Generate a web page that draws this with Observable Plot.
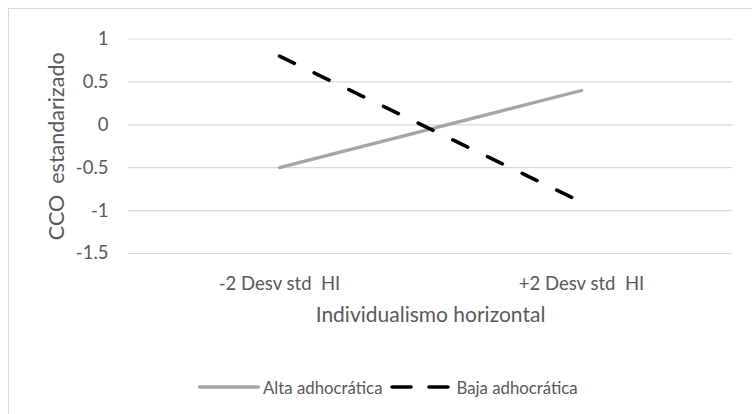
<!DOCTYPE html>
<html>
<head>
<meta charset="utf-8">
<script src="https://cdn.jsdelivr.net/npm/d3@7"></script>
<script src="https://cdn.jsdelivr.net/npm/@observablehq/plot@0.6"></script>
<style>
  html, body { margin: 0; padding: 0; background: #fff; overflow: hidden; }
  #wrap { position: relative; width: 752px; height: 414px; font-family: Lato, "Open Sans", sans-serif; }
  #frame { position: absolute; left: 8px; top: 8px; width: 800px; height: 500px; border: 1px solid #d9d9d9; box-sizing: border-box; }
  #chart { position: absolute; left: 0; top: 0; }
  #legend { position: absolute; left: 198px; top: 376px; height: 22px; display: flex; align-items: center; font-size: 16.8px; color: #595959; white-space: pre; }
  #legend svg { display: block; }
  #chart text { fill: #595959; }
</style>
</head>
<body>
<div id="wrap">
  <div id="frame"></div>
  <div id="chart"></div>
  <div id="legend"></div>
</div>
<script>
const categories = ["-2 Desv std  HI", "+2 Desv std  HI"];
const seriesNames = ["Alta adhocrática", "Baja adhocrática"];
const altaValues = [-0.5, 0.4];
const bajaValues = [0.8, -0.9];
const yTicks = [-1.5, -1, -0.5, 0, 0.5, 1];
const xLabel = "Individualismo horizontal";
const yLabel = "CCO  estandarizado";

const colors = {"Alta adhocrática": "#a5a5a5", "Baja adhocrática": "#000000"};

const alta = categories.map((c, i) => ({cat: c, value: altaValues[i], series: seriesNames[0]}));
const baja = categories.map((c, i) => ({cat: c, value: bajaValues[i], series: seriesNames[1]}));

const plot = Plot.plot({
  width: 752,
  height: 368,
  marginLeft: 128,
  marginRight: 20,
  marginTop: 38.5,
  marginBottom: 115,
  style: {fontFamily: "Lato, 'Open Sans', sans-serif", fontSize: "18.5px", color: "#595959", background: "transparent"},
  x: {type: "point", domain: categories, padding: 0.5},
  y: {domain: [-1.5, 1]},
  marks: [
    Plot.gridY(yTicks, {stroke: "#d9d9d9", strokeOpacity: 1, strokeWidth: 1.2}),
    Plot.axisY(yTicks, {tickSize: 0, tickPadding: 20, tickFormat: d => String(d), label: null, fontSize: 18.5}),
    Plot.axisY({label: yLabel, ticks: [], tickSize: 0, labelAnchor: "center", labelArrow: "none", labelOffset: 80, fontSize: 21.5}),
    Plot.axisX({tickSize: 0, tickPadding: 23, label: null, fontSize: 18.5}),
    Plot.axisX({label: xLabel, ticks: [], tickSize: 0, labelAnchor: "center", labelArrow: "none", labelOffset: 68, fontSize: 21}),
    Plot.line(alta, {x: "cat", y: "value", stroke: colors[seriesNames[0]], strokeWidth: 3.3, strokeLinecap: "round"}),
    Plot.line(baja, {x: "cat", y: "value", stroke: colors[seriesNames[1]], strokeWidth: 3.6, strokeLinecap: "round", strokeDasharray: "16.5,22"})
  ]
});
plot.querySelectorAll("text").forEach(t => t.setAttribute("xml:space", "preserve"));
plot.style.whiteSpace = "pre";
document.getElementById("chart").appendChild(plot);

// Legend
const legend = document.getElementById("legend");
function swatch(color, dashed) {
  const ns = "http://www.w3.org/2000/svg";
  const s = document.createElementNS(ns, "svg");
  s.setAttribute("width", 62);
  s.setAttribute("height", 10);
  const l = document.createElementNS(ns, "line");
  l.setAttribute("x1", dashed ? 2 : 1.5);
  l.setAttribute("x2", dashed ? 60 : 60.5);
  l.setAttribute("y1", 5); l.setAttribute("y2", 5);
  l.setAttribute("stroke", color);
  l.setAttribute("stroke-width", dashed ? 3.6 : 3.3);
  l.setAttribute("stroke-linecap", "round");
  if (dashed) l.setAttribute("stroke-dasharray", "19,18");
  s.appendChild(l);
  return s;
}
seriesNames.forEach((name, i) => {
  const sw = swatch(colors[name], i === 1);
  const lbl = document.createElement("span");
  lbl.textContent = name;
  lbl.style.marginLeft = i === 1 ? "4px" : "3px";
  lbl.style.marginRight = i === 0 ? "8px" : "0";
  legend.appendChild(sw);
  legend.appendChild(lbl);
});
</script>
</body>
</html>
